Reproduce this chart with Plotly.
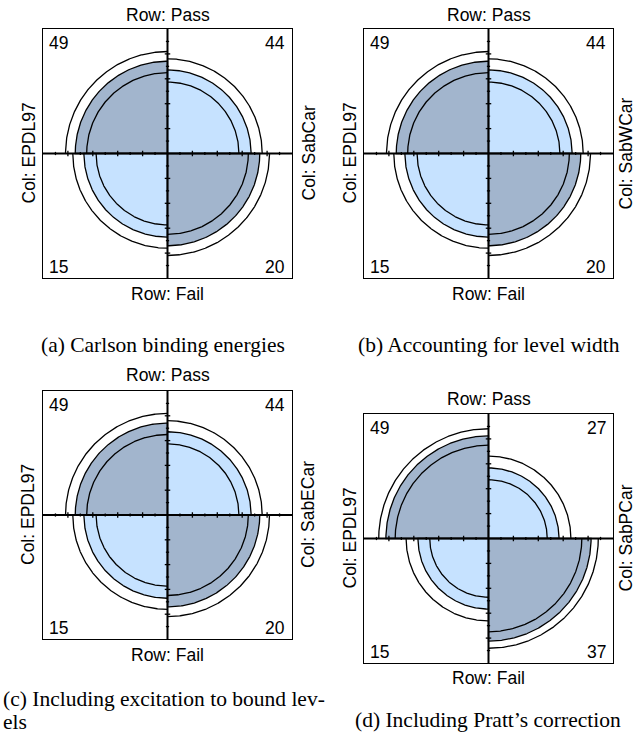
import numpy as np
import plotly.graph_objects as go
from statistics import NormalDist

# ---------------- data ----------------
row_labels = ["Pass", "Fail"]
col_left = ["EPDL97", "EPDL97", "EPDL97", "EPDL97"]
col_right = ["SabCar", "SabWCar", "SabECar", "SabPCar"]
# 2x2 counts per panel
pass_left = [49, 49, 49, 49]
pass_right = [44, 44, 44, 27]
fail_left = [15, 15, 15, 15]
fail_right = [20, 20, 20, 37]
captions = [
    "(a) Carlson binding energies",
    "(b) Accounting for level width",
    "(c) Including excitation to bound lev-<br>els",
    "(d) Including Pratt\u2019s correction",
]
conf_level = 0.99

W, H = 635, 738
LIGHT = "#C6E2FF"
DARK = "#A2B5CD"
SANS = "Liberation Sans, Arial, Helvetica, sans-serif"
SERIF = "Liberation Serif, Times New Roman, Times, serif"

# panel boxes in pixels: (left, top, right, bottom)
boxes = [(43, 29, 292, 278), (364, 29, 613, 278), (43, 391, 292, 639), (364, 414, 613, 663)]
top_gap = [14, 14, 16, 15]
bot_gap = [16, 16, 16, 15]
right_gap = [16, 12, 16, 12]


def std_p(theta):
    s = np.sqrt(theta)
    return s / (1 + s)


def arc(r, a0, a1, n=200, closed=False):
    t = np.radians(np.linspace(a0, a1, n))
    x = r * np.cos(t)
    y = r * np.sin(t)
    if closed:
        x = np.concatenate([[0], x, [0]])
        y = np.concatenate([[0], y, [0]])
    return x, y


fig = go.Figure()
z = NormalDist().inv_cdf((1 + conf_level) / 2)
layout_axes = {}
annotations = []

for i in range(4):
    sfx = "" if i == 0 else str(i + 1)
    xa, ya = "x" + sfx, "y" + sfx
    L, T, R, B = boxes[i]
    common = dict(range=[-1, 1], showgrid=False, zeroline=False, showticklabels=False,
                  ticks="", showline=True, mirror=True, linecolor="black",
                  linewidth=1.3, fixedrange=True)
    layout_axes["xaxis" + sfx] = dict(domain=[L / W, R / W], anchor=ya, **common)
    layout_axes["yaxis" + sfx] = dict(domain=[1 - B / H, 1 - T / H], anchor=xa, **common)

    a, b, c, d = pass_left[i], pass_right[i], fail_left[i], fail_right[i]
    odds = a * d / (b * c)
    p = std_p(odds)
    # quadrants: TL (a), TR (b), BL (c), BR (d)
    quads = [(np.sqrt(p), 90, 180, DARK), (np.sqrt(1 - p), 0, 90, LIGHT),
             (np.sqrt(1 - p), 180, 270, LIGHT), (np.sqrt(p), 270, 360, DARK)]
    for r, a0, a1, col in quads:
        x, y = arc(r, a0, a1, closed=True)
        fig.add_trace(go.Scatter(x=x, y=y, mode="lines", fill="toself", fillcolor=col,
                                 line=dict(color="black", width=1.3), xaxis=xa, yaxis=ya,
                                 hoverinfo="skip", showlegend=False))
    # confidence rings
    se = np.sqrt(1 / a + 1 / b + 1 / c + 1 / d)
    for lim in (np.exp(np.log(odds) - z * se), np.exp(np.log(odds) + z * se)):
        q = std_p(lim)
        xs, ys = [], []
        for r, a0, a1 in [(np.sqrt(q), 90, 180), (np.sqrt(1 - q), 0, 90),
                          (np.sqrt(1 - q), 180, 270), (np.sqrt(q), 270, 360)]:
            x, y = arc(r, a0, a1)
            xs += list(x) + [None]
            ys += list(y) + [None]
        fig.add_trace(go.Scatter(x=xs, y=ys, mode="lines", line=dict(color="black", width=1.3),
                                 xaxis=xa, yaxis=ya, hoverinfo="skip", showlegend=False))
    # axes cross
    fig.add_trace(go.Scatter(x=[-1, 1, None, 0, 0], y=[0, 0, None, -1, 1], mode="lines",
                             line=dict(color="black", width=2), xaxis=xa, yaxis=ya,
                             hoverinfo="skip", showlegend=False))
    # ticks
    tx, ty = [], []
    for k in range(-9, 10):
        if k == 0:
            continue
        v = k / 10
        h = 0.022 if k % 2 == 0 else 0.013
        tx += [v, v, None, -h, h, None]
        ty += [-h, h, None, v, v, None]
    fig.add_trace(go.Scatter(x=tx, y=ty, mode="lines", line=dict(color="black", width=1.3),
                             xaxis=xa, yaxis=ya, hoverinfo="skip", showlegend=False))

    xr, yr = xa + " domain", ya + " domain"
    f = dict(family=SANS, size=17.5, color="black")
    annotations += [
        dict(text="Row: " + row_labels[0], x=0.5, y=1, xref=xr, yref=yr, xanchor="center",
             yanchor="middle", yshift=top_gap[i], showarrow=False, font=f),
        dict(text="Row: " + row_labels[1], x=0.5, y=0, xref=xr, yref=yr, xanchor="center",
             yanchor="middle", yshift=-bot_gap[i], showarrow=False, font=f),
        dict(text="Col: " + col_left[i], x=0, y=0.5, xref=xr, yref=yr, xanchor="center",
             yanchor="middle", xshift=-15, textangle=-90, showarrow=False, font=f),
        dict(text="Col: " + col_right[i], x=1, y=0.5, xref=xr, yref=yr, xanchor="center",
             yanchor="middle", xshift=right_gap[i], textangle=-90, showarrow=False, font=f),
        dict(text=str(a), x=0, y=1, xref=xr, yref=yr, xanchor="left", yanchor="middle",
             xshift=4, yshift=-14, showarrow=False, font=f),
        dict(text=str(b), x=1, y=1, xref=xr, yref=yr, xanchor="right", yanchor="middle",
             xshift=-5, yshift=-14, showarrow=False, font=f),
        dict(text=str(c), x=0, y=0, xref=xr, yref=yr, xanchor="left", yanchor="middle",
             xshift=4, yshift=11, showarrow=False, font=f),
        dict(text=str(d), x=1, y=0, xref=xr, yref=yr, xanchor="right", yanchor="middle",
             xshift=-5, yshift=11, showarrow=False, font=f),
    ]

fc = dict(family=SERIF, size=21.5, color="black")
cap_c = captions[2].split("<br>")
annotations += [
    dict(text=captions[0], x=163 / W, y=1 - 345 / H, xref="paper", yref="paper",
         xanchor="center", yanchor="middle", showarrow=False, font=fc),
    dict(text=captions[1], x=489 / W, y=1 - 345 / H, xref="paper", yref="paper",
         xanchor="center", yanchor="middle", showarrow=False, font=fc),
    dict(text=cap_c[0], x=1 / W, y=1 - 699 / H, xref="paper", yref="paper",
         xanchor="left", yanchor="middle", showarrow=False, font=fc),
    dict(text=cap_c[1], x=1 / W, y=1 - 722 / H, xref="paper", yref="paper",
         xanchor="left", yanchor="middle", showarrow=False, font=fc),
    dict(text=captions[3], x=488 / W, y=1 - 720 / H, xref="paper", yref="paper",
         xanchor="center", yanchor="middle", showarrow=False, font=fc),
]

fig.update_layout(width=W, height=H, margin=dict(l=0, r=0, t=0, b=0),
                  paper_bgcolor="white", plot_bgcolor="white", showlegend=False,
                  annotations=annotations, **layout_axes)
fig.write_html("out.html", config={"displayModeBar": False, "staticPlot": True},
               post_script="document.body.style.margin='0px';document.body.style.overflow='hidden';")
